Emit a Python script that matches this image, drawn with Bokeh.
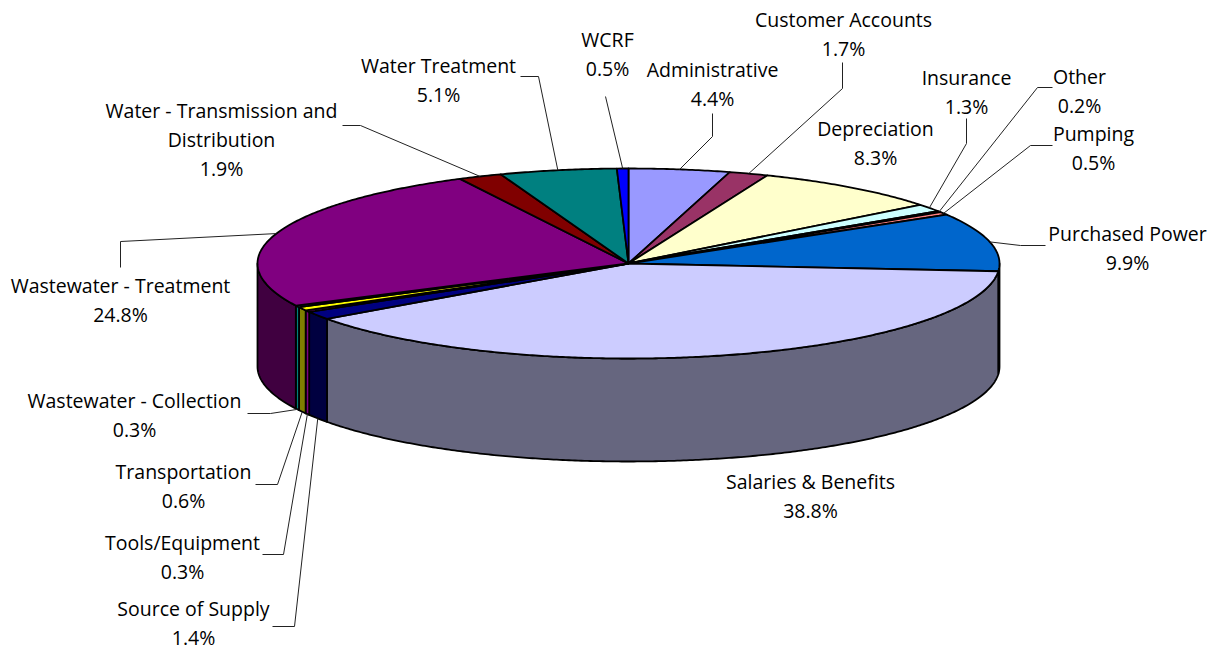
import numpy as np
from bokeh.plotting import figure
from bokeh.models import ColumnDataSource
from bokeh.core.properties import value
from bokeh.embed import file_html
from bokeh.resources import INLINE

# ---- data (clockwise from 12 o'clock) ----
categories = ["Administrative", "Customer Accounts", "Depreciation", "Insurance", "Other", "Pumping",
              "Purchased Power", "Salaries & Benefits", "Source of Supply", "Tools/Equipment",
              "Transportation", "Wastewater - Collection", "Wastewater - Treatment",
              "Water - Transmission and\nDistribution", "Water Treatment", "WCRF"]
shares = [4.4, 1.7, 8.3, 1.3, 0.2, 0.5, 9.9, 38.8, 1.4, 0.3, 0.6, 0.3, 24.8, 1.9, 5.1, 0.5]
colors = ["#9999FF", "#993366", "#FFFFCC", "#CCFFFF", "#660066", "#FF8080", "#0066CC", "#CCCCFF",
          "#000080", "#FF00FF", "#FFFF00", "#00FFFF", "#800080", "#800000", "#008080", "#0000FF"]

# ---- layout (page pixels) ----
CX, CY, RX, RY, DEPTH = 628.0, 263.0, 371.0, 95.0, 103.0
FONT = "Open Sans"
FONT_SIZE = "19.5px"
LINE_PITCH = 29
# name -> (centre x, y of first text line, leader elbow points from the label side)
placement = {
    "Administrative": (712, 69, [(712, 113), (712, 136)]),
    "Customer Accounts": (843, 19, [(842, 62), (842, 88)]),
    "Depreciation": (875, 128, []),
    "Insurance": (966, 77, [(966, 118), (966, 143)]),
    "Other": (1079, 76, [(1052, 87), (1037, 87)]),
    "Pumping": (1093, 133, [(1052, 145), (1030, 145)]),
    "Purchased Power": (1127, 233, [(1045, 245), (1020, 245)]),
    "Salaries & Benefits": (810, 481, []),
    "Source of Supply": (193, 608, [(272, 626), (294, 626)]),
    "Tools/Equipment": (182, 542, [(262, 554), (283, 554)]),
    "Transportation": (183, 471, [(255, 484), (277, 484)]),
    "Wastewater - Collection": (134, 400, [(247, 413), (270, 413)]),
    "Wastewater - Treatment": (120, 285, [(120, 267), (120, 241)]),
    "Water - Transmission and\nDistribution": (221, 110, [(342, 125), (360, 125)]),
    "Water Treatment": (438, 65, [(520, 76), (538, 76)]),
    "WCRF": (607, 39, [(605, 96)]),
}

p = figure(width=1218, height=651, x_range=(0, 1218), y_range=(651, 0),
           output_backend="svg", toolbar_location=None, min_border=0)
p.axis.visible = False
p.grid.visible = False
p.outline_line_color = None
p.background_fill_color = "white"

ends = np.cumsum(shares) / np.sum(shares) * 2 * np.pi
starts = np.concatenate([[0.0], ends[:-1]])


def rim(t, drop=0.0):
    return CX + RX * np.sin(t), CY - RY * np.cos(t) + drop


def shade(hex_color):
    return "#" + "".join(f"{int(hex_color[i:i + 2], 16) // 2:02X}" for i in (1, 3, 5))


# side walls: only the part of each slice on the near half of the rim
wall_x, wall_y, wall_c = [], [], []
for a, b, c in zip(starts, ends, colors):
    lo, hi = max(a, np.pi / 2), min(b, 3 * np.pi / 2)
    if hi <= lo:
        continue
    t = np.linspace(lo, hi, max(int((hi - lo) * 120), 2))
    xt, yt = rim(t)
    xb, yb = rim(t[::-1], DEPTH)
    wall_x.append(np.concatenate([xt, xb]).tolist())
    wall_y.append(np.concatenate([yt, yb]).tolist())
    wall_c.append(shade(c))
p.patches("x", "y", fill_color="c", line_color="black", line_width=1.8, line_join="round",
          source=ColumnDataSource(dict(x=wall_x, y=wall_y, c=wall_c)))

# top faces
top_x, top_y = [], []
for a, b in zip(starts, ends):
    t = np.linspace(a, b, max(int((b - a) * 120), 2))
    xt, yt = rim(t)
    top_x.append([CX] + xt.tolist())
    top_y.append([CY] + yt.tolist())
p.patches("x", "y", fill_color="c", line_color="black", line_width=1.8, line_join="round",
          source=ColumnDataSource(dict(x=top_x, y=top_y, c=colors)))

# leaders and labels
tx, ty, tt = [], [], []
lead_x, lead_y = [], []
for name, share, a, b in zip(categories, shares, starts, ends):
    cx, y0, elbow = placement[name]
    for i, line in enumerate(name.split("\n") + [f"{share}%"]):
        tx.append(cx)
        ty.append(y0 + i * LINE_PITCH)
        tt.append(line)
    if elbow:
        mid = (a + b) / 2
        ax, ay = rim(mid, DEPTH if np.pi / 2 < mid < 3 * np.pi / 2 else 0.0)
        lead_x.append([e[0] for e in elbow] + [float(ax)])
        lead_y.append([e[1] for e in elbow] + [float(ay)])
p.multi_line("x", "y", line_color="#222222", line_width=1,
             source=ColumnDataSource(dict(x=lead_x, y=lead_y)))
p.text("x", "y", text="t", text_font=value(FONT), text_font_size=FONT_SIZE, text_color="black",
       text_align="center", text_baseline="middle",
       source=ColumnDataSource(dict(x=tx, y=ty, t=tt)))

open("out.html", "w").write(file_html(p, INLINE))
